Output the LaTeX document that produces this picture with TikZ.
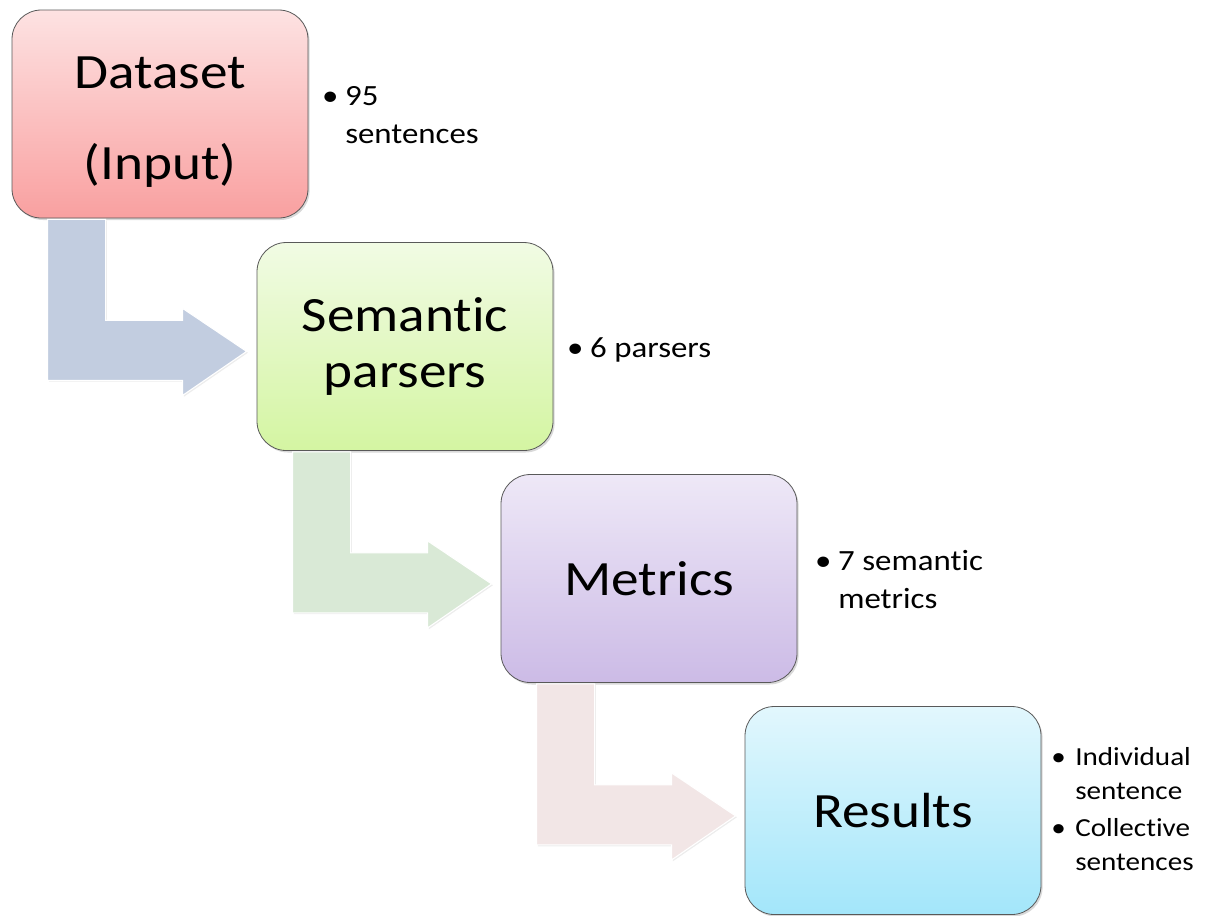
\documentclass[tikz,border=0pt]{standalone}
\usepackage{fontspec}
\setmainfont{Carlito}[FakeStretch=1.12, Ligatures=NoCommon]
\usetikzlibrary{shadows}

\definecolor{dataTop}{RGB}{253,226,226}
\definecolor{dataBot}{RGB}{249,160,160}
\definecolor{parseTop}{RGB}{241,251,228}
\definecolor{parseBot}{RGB}{212,245,162}
\definecolor{metricTop}{RGB}{238,232,247}
\definecolor{metricBot}{RGB}{204,187,230}
\definecolor{resultTop}{RGB}{226,247,253}
\definecolor{resultBot}{RGB}{163,230,250}
\definecolor{flowA}{RGB}{194,205,224}
\definecolor{flowB}{RGB}{217,233,214}
\definecolor{flowC}{RGB}{242,230,230}

\tikzset{
  stage/.style={draw=black!65, line width=0.6pt, rounded corners=22pt,
    minimum width=222pt, minimum height=156pt, align=center,
    font=\fontsize{37}{42}\selectfont,
    drop shadow={opacity=0.3, shadow xshift=1.2pt, shadow yshift=-1.5pt}},
  note/.style={anchor=base west, inner sep=0pt, align=left,
    font=\fontsize{22}{28.5}\selectfont},
  smallnote/.style={note, font=\fontsize{19.5}{25.5}\selectfont},
  flow/.style={draw=white, line width=0.8pt,
    drop shadow={opacity=0.15, shadow xshift=1pt, shadow yshift=-1pt}}
}

\begin{document}
\begin{tikzpicture}[x=0.75pt, y=-0.75pt]
  \useasboundingbox (0,0) rectangle (1213,915);
  % the four stages
  \node[stage, top color=dataTop, bottom color=dataBot] (data) at (160,114)
    {\rule{0pt}{36pt}Dataset\\[26pt](Input)};
  \node[stage, top color=parseTop, bottom color=parseBot] (parse) at (405,346.5)
    {Semantic\\parsers};
  \node[stage, top color=metricTop, bottom color=metricBot] (metric) at (649,578.5)
    {Metrics};
  \node[stage, top color=resultTop, bottom color=resultBot] (result) at (893,810.5)
    {Results};
  % bent arrows between the stages
  \foreach \a/\c in {data/flowA, parse/flowB, metric/flowC}
    \draw[flow, fill=\c, shift={(\a.south west)}]
      (36,1) -- (36,162) -- (171,162) -- (171,177) -- (235,133)
      -- (171,90) -- (171,102) -- (94,102) -- (94,1) -- cycle;
  % notes beside the stages (placed at the last baseline)
  \node[note] (dataNote) at (345,143)
    {\llap{\textbullet\kern5pt}95\\sentences};
  \node[note] (parseNote) at (590,357)
    {\llap{\textbullet\kern5pt}6 parsers};
  \node[note] (metricNote) at (838,608)
    {\llap{\textbullet\kern5pt}7 semantic\\metrics};
  \node[smallnote] (resultNote) at (1075,870)
    {\llap{\textbullet\kern7pt}Individual\\sentence\\[2pt]
     \llap{\textbullet\kern7pt}Collective\\sentences};
\end{tikzpicture}
\end{document}
